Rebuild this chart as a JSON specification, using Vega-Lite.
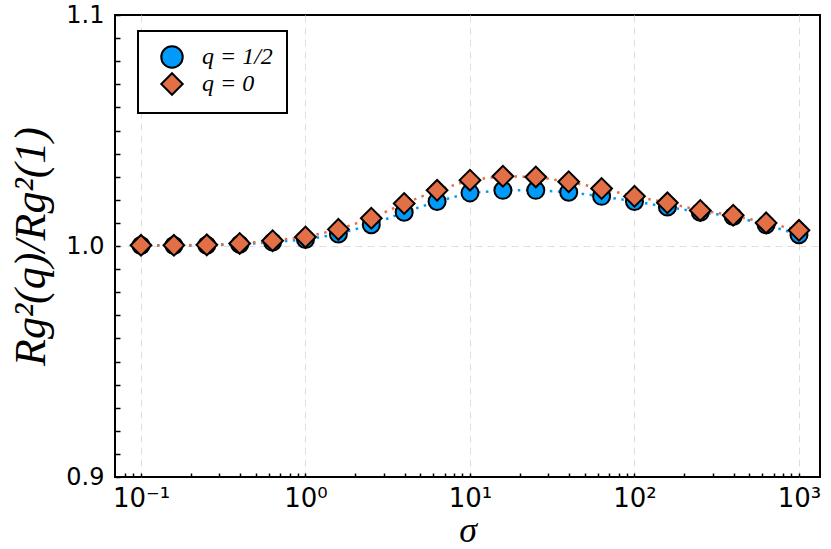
{
  "$schema": "https://vega.github.io/schema/vega-lite/v6.json",
  "width": 705,
  "height": 462,
  "autosize": "none",
  "padding": {"left": 115, "top": 15, "right": 11, "bottom": 72},
  "background": "white",
  "config": {
    "view": {"stroke": "black", "strokeWidth": 2},
    "axis": {
      "domain": false,
      "tickColor": "black",
      "tickWidth": 1.5,
      "tickSize": -5,
      "labelFont": "DejaVu Sans",
      "labelFontSize": 24,
      "labelColor": "black",
      "gridColor": "#dddddd",
      "gridDash": [7, 5],
      "gridWidth": 1,
      "titleFont": "Liberation Serif",
      "titleFontStyle": "italic",
      "titleFontWeight": "normal",
      "titleColor": "black"
    },
    "legend": {
      "strokeColor": "black",
      "strokeWidth": 2,
      "fillColor": "white",
      "padding": 14,
      "cornerRadius": 0
    }
  },
  "data": {
    "values": [
      {"sigma": 0.1, "value": 1.0002, "series": "q = 1/2"},
      {"sigma": 0.1585, "value": 1.0002, "series": "q = 1/2"},
      {"sigma": 0.2512, "value": 1.0003, "series": "q = 1/2"},
      {"sigma": 0.3981, "value": 1.0007, "series": "q = 1/2"},
      {"sigma": 0.631, "value": 1.0017, "series": "q = 1/2"},
      {"sigma": 1, "value": 1.0028, "series": "q = 1/2"},
      {"sigma": 1.585, "value": 1.0052, "series": "q = 1/2"},
      {"sigma": 2.512, "value": 1.0092, "series": "q = 1/2"},
      {"sigma": 3.981, "value": 1.0146, "series": "q = 1/2"},
      {"sigma": 6.31, "value": 1.0193, "series": "q = 1/2"},
      {"sigma": 10, "value": 1.023, "series": "q = 1/2"},
      {"sigma": 15.85, "value": 1.0241, "series": "q = 1/2"},
      {"sigma": 25.12, "value": 1.0241, "series": "q = 1/2"},
      {"sigma": 39.81, "value": 1.0233, "series": "q = 1/2"},
      {"sigma": 63.1, "value": 1.0215, "series": "q = 1/2"},
      {"sigma": 100, "value": 1.0193, "series": "q = 1/2"},
      {"sigma": 158.5, "value": 1.0169, "series": "q = 1/2"},
      {"sigma": 251.2, "value": 1.0146, "series": "q = 1/2"},
      {"sigma": 398.1, "value": 1.0128, "series": "q = 1/2"},
      {"sigma": 631, "value": 1.0092, "series": "q = 1/2"},
      {"sigma": 1000, "value": 1.0049, "series": "q = 1/2"},
      {"sigma": 0.1, "value": 1.0003, "series": "q = 0"},
      {"sigma": 0.1585, "value": 1.0003, "series": "q = 0"},
      {"sigma": 0.2512, "value": 1.0005, "series": "q = 0"},
      {"sigma": 0.3981, "value": 1.0011, "series": "q = 0"},
      {"sigma": 0.631, "value": 1.0023, "series": "q = 0"},
      {"sigma": 1, "value": 1.0039, "series": "q = 0"},
      {"sigma": 1.585, "value": 1.0072, "series": "q = 0"},
      {"sigma": 2.512, "value": 1.012, "series": "q = 0"},
      {"sigma": 3.981, "value": 1.0184, "series": "q = 0"},
      {"sigma": 6.31, "value": 1.0241, "series": "q = 0"},
      {"sigma": 10, "value": 1.0285, "series": "q = 0"},
      {"sigma": 15.85, "value": 1.0302, "series": "q = 0"},
      {"sigma": 25.12, "value": 1.0299, "series": "q = 0"},
      {"sigma": 39.81, "value": 1.0278, "series": "q = 0"},
      {"sigma": 63.1, "value": 1.0249, "series": "q = 0"},
      {"sigma": 100, "value": 1.0215, "series": "q = 0"},
      {"sigma": 158.5, "value": 1.0187, "series": "q = 0"},
      {"sigma": 251.2, "value": 1.0154, "series": "q = 0"},
      {"sigma": 398.1, "value": 1.0133, "series": "q = 0"},
      {"sigma": 631, "value": 1.01, "series": "q = 0"},
      {"sigma": 1000, "value": 1.0068, "series": "q = 0"}
    ]
  },
  "encoding": {
    "x": {
      "field": "sigma",
      "type": "quantitative",
      "scale": {"type": "log", "domain": [0.0695, 1342], "nice": false},
      "axis": {
        "title": "σ",
        "titleFontSize": 36,
        "titlePadding": 2,
        "labelPadding": 12,
        "labelFontSize": 26,
        "values": [0.08, 0.09, 0.1, 0.2, 0.3, 0.4, 0.5, 0.6, 0.7, 0.8, 0.9, 1, 2, 3, 4, 5, 6, 7, 8, 9, 10, 20, 30, 40, 50, 60, 70, 80, 90, 100, 200, 300, 400, 500, 600, 700, 800, 900, 1000],
        "labelExpr": "datum.value == 0.1 ? '10⁻¹' : datum.value == 1 ? '10⁰' : datum.value == 10 ? '10¹' : datum.value == 100 ? '10²' : datum.value == 1000 ? '10³' : ''",
        "gridOpacity": {"condition": {"test": "indexof([0.1, 1, 10, 100, 1000], datum.value) >= 0", "value": 1}, "value": 0},
        "tickSize": -4
      }
    },
    "y": {
      "field": "value",
      "type": "quantitative",
      "scale": {"domain": [0.9, 1.1], "nice": false, "zero": false},
      "axis": {
        "title": "Rg²(q)/Rg²(1)",
        "titleFontSize": 44,
        "titlePadding": 12,
        "labelPadding": 16,
        "values": [0.9, 0.91, 0.92, 0.93, 0.94, 0.95, 0.96, 0.97, 0.98, 0.99, 1.0, 1.01, 1.02, 1.03, 1.04, 1.05, 1.06, 1.07, 1.08, 1.09, 1.1],
        "labelExpr": "abs(datum.value * 10 - round(datum.value * 10)) < 0.000001 ? format(datum.value, '.1f') : ''",
        "gridOpacity": {"condition": {"test": "abs(datum.value - 1) < 0.000001", "value": 1}, "value": 0}
      }
    }
  },
  "layer": [
    {
      "mark": {"type": "line", "strokeWidth": 2.5, "strokeDash": [2.5, 5.5], "strokeCap": "butt"},
      "encoding": {
        "stroke": {
          "field": "series",
          "type": "nominal",
          "scale": {"range": ["#E26F46", "#009AFA"]},
          "legend": null
        }
      }
    },
    {
      "mark": {"type": "point", "filled": true, "opacity": 1, "stroke": "black", "strokeWidth": 2},
      "encoding": {
        "color": {
          "field": "series",
          "type": "nominal",
          "scale": {"domain": ["q = 1/2", "q = 0"], "range": ["#009AFA", "#E26F46"]},
          "legend": {
            "title": null,
            "orient": "none",
            "legendX": 23,
            "legendY": 16,
            "symbolSize": 460,
            "symbolStrokeColor": "black",
            "symbolStrokeWidth": 2,
            "symbolOffset": 8,
            "labelOffset": 18,
            "rowPadding": -3,
            "labelFont": "Liberation Serif",
            "labelFontStyle": "italic",
            "labelFontSize": 24,
            "labelColor": "black"
          }
        },
        "shape": {
          "field": "series",
          "type": "nominal",
          "scale": {"domain": ["q = 1/2", "q = 0"], "range": ["circle", "diamond"]},
          "legend": {
            "title": null,
            "orient": "none",
            "legendX": 23,
            "legendY": 16
          }
        },
        "size": {
          "field": "series",
          "type": "nominal",
          "scale": {"range": [430, 290]},
          "legend": null
        },
        "order": {"field": "series", "sort": "descending"}
      }
    }
  ]
}
